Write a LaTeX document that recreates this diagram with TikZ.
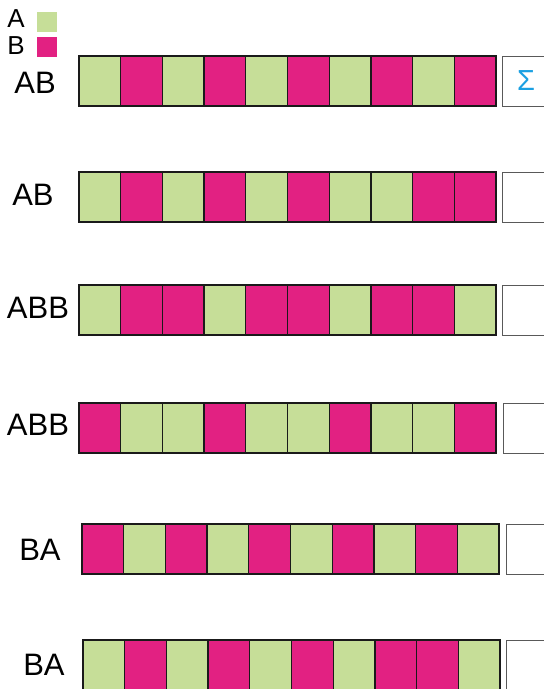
\documentclass[tikz,border=0pt]{standalone}
\usepackage{fontspec}
\setmainfont{Liberation Sans}
\usepackage{xcolor}
\definecolor{cA}{HTML}{C6DE98}
\definecolor{cB}{HTML}{E22182}
\definecolor{cSum}{HTML}{1BA0E2}
\definecolor{cFrame}{HTML}{1A1A1A}
\usepackage{tikz}
\usetikzlibrary{positioning}
\tikzset{
  cell-a/.style={draw=cFrame,line width=1.3pt,fill=cA,anchor=north west,
    minimum width=41.7pt,minimum height=50pt,inner sep=0pt,outer sep=0pt},
  cell-b/.style={draw=cFrame,line width=1.3pt,fill=cB,anchor=north west,
    minimum width=41.7pt,minimum height=50pt,inner sep=0pt,outer sep=0pt},
  bar-frame/.style={draw=cFrame,line width=1.6pt},
  sum-box/.style={draw=black!65,line width=1pt,fill=white,anchor=north west,
    minimum width=46pt,minimum height=50pt,inner sep=0pt},
  row-label/.style={font=\fontsize{31}{31}\selectfont,inner sep=0pt},
  legend-text/.style={font=\fontsize{26}{26}\selectfont,inner sep=0pt},
  legend-box/.style={minimum size=20pt,inner sep=0pt,anchor=north west},
}
\begin{document}
\begin{tikzpicture}[x=1pt,y=-1pt]
  \useasboundingbox (0,0) rectangle (544,689);
  % legend
  \node[legend-text] (leg-a) at (16,19) {A};
  \node[legend-text] (leg-b) at (16,46) {B};
  \node[legend-box,fill=cA] (leg-a-box) at (37,12) {};
  \node[legend-box,fill=cB] (leg-b-box) at (37,37) {};
  % rows: id / top / bar start / box start / label / label x / label y / cells
  \foreach \r/\top/\xs/\bx/\txt/\lx/\ly/\pat in {
      1/56/79/502/AB/35/83/{a,b,a,b,a,b,a,b,a,b},
      2/172/79/502/AB/33/195/{a,b,a,b,a,b,a,a,b,b},
      3/285/79/502/ABB/38/308/{a,b,b,a,b,b,a,b,b,a},
      4/403/79/503/ABB/38/425/{b,a,a,b,a,a,b,a,a,b},
      5/524/82/506/BA/40/550/{b,a,b,a,b,a,b,a,b,a},
      6/640/83/506/BA/44/665/{a,b,a,b,a,b,a,b,b,a}}{
    \node[row-label] (label-\r) at (\lx,\ly) {\txt};
    \foreach \c [count=\i] in \pat
      \node[cell-\c] (r\r-c\i) at ({\xs+(\i-1)*41.7},\top) {};
    \draw[bar-frame] (r\r-c1.north west) rectangle (r\r-c10.south east);
    \node[sum-box] (sum-\r) at (\bx,\top) {};
  }
  \node[font=\fontsize{29}{29}\selectfont,text=cSum,inner sep=0pt]
    (sigma) at (526,81) {Σ};
\end{tikzpicture}
\end{document}
